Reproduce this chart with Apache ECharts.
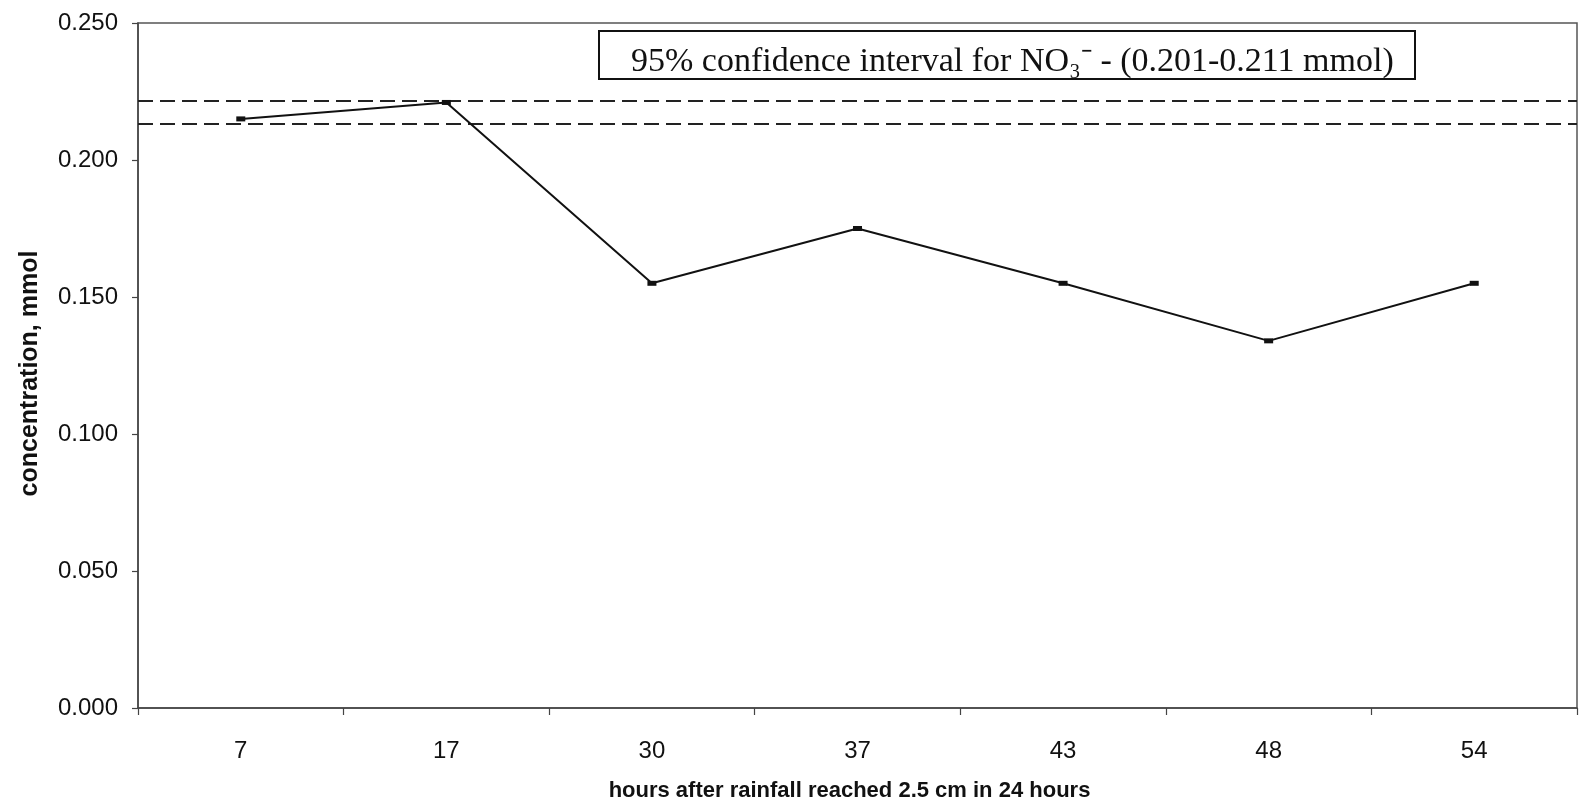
<!DOCTYPE html>
<html>
<head>
<meta charset="utf-8">
<script src="https://cdn.jsdelivr.net/npm/echarts@6/dist/echarts.min.js"></script>
<style>
html,body{margin:0;padding:0;background:#fff;}
#chart{width:1579px;height:807px;}
</style>
</head>
<body>
<div id="chart"></div>
<script>
const categories = ['7', '17', '30', '37', '43', '48', '54'];
const concentration = [0.215, 0.221, 0.155, 0.175, 0.155, 0.134, 0.155];
const confidenceLines = [0.2217, 0.2132];
const yTicks = { min: 0, max: 0.25, interval: 0.05 };
const annotationText = '95% confidence interval for NO\u2083\u207B - (0.201-0.211 mmol)';
const xTitle = 'hours after rainfall reached 2.5 cm in 24 hours';
const yTitle = 'concentration, mmol';

const chart = echarts.init(document.getElementById('chart'), null, { renderer: 'canvas' });

const option = {
  backgroundColor: '#ffffff',
  animation: false,
  grid: {
    left: 138, right: 2, top: 23, bottom: 92,
    show: true, borderColor: '#555', borderWidth: 1.5, backgroundColor: 'transparent'
  },
  xAxis: {
    type: 'category',
    data: categories,
    boundaryGap: true,
    name: xTitle,
    nameLocation: 'middle',
    nameGap: 72,
    nameTextStyle: { fontFamily: 'Liberation Sans, Arial, sans-serif', fontWeight: 'bold', fontSize: 22, color: '#111', padding: [0, 16, 0, 0] },
    axisLine: { lineStyle: { color: '#444', width: 1.5 } },
    axisTick: { show: true, alignWithLabel: false, length: 7, lineStyle: { color: '#444', width: 1.2 } },
    axisLabel: { fontFamily: 'Liberation Sans, Arial, sans-serif', fontSize: 24, color: '#111', margin: 31 },
    splitLine: { show: false }
  },
  yAxis: {
    type: 'value',
    min: yTicks.min, max: yTicks.max, interval: yTicks.interval,
    name: yTitle,
    nameLocation: 'middle',
    nameGap: 95,
    nameRotate: 90,
    nameTextStyle: { fontFamily: 'Liberation Sans, Arial, sans-serif', fontWeight: 'bold', fontSize: 25, color: '#111', padding: [0, 16, 0, 0] },
    axisLine: { show: true, lineStyle: { color: '#444', width: 1.5 } },
    axisTick: { show: true, length: 6, lineStyle: { color: '#444', width: 1.2 } },
    axisLabel: {
      fontFamily: 'Liberation Sans, Arial, sans-serif', fontSize: 24, color: '#111', margin: 20,
      formatter: v => v.toFixed(3)
    },
    splitLine: { show: false }
  },
  series: [{
    type: 'line',
    data: concentration,
    symbol: 'rect',
    symbolSize: [9, 5],
    itemStyle: { color: '#111' },
    lineStyle: { color: '#111', width: 2 },
    z: 5,
    markLine: {
      silent: true,
      precision: 4,
      symbol: ['none', 'none'],
      label: { show: false },
      lineStyle: { color: '#222', type: [15, 7], width: 2.2 },
      data: confidenceLines.map(v => ({ yAxis: v }))
    }
  }],
  graphic: [{
    type: 'group',
    left: 598, top: 30,
    children: [
      { type: 'rect', shape: { x: 0, y: 0, width: 816, height: 48 },
        style: { fill: '#fff', stroke: '#111', lineWidth: 2 } },
      { type: 'text', x: 32, y: 14,
        style: { text: annotationText, font: '34px "Liberation Serif", "Times New Roman", serif',
                 fill: '#111', textVerticalAlign: 'top' } }
    ]
  }]
};
chart.setOption(option);
</script>
</body>
</html>
